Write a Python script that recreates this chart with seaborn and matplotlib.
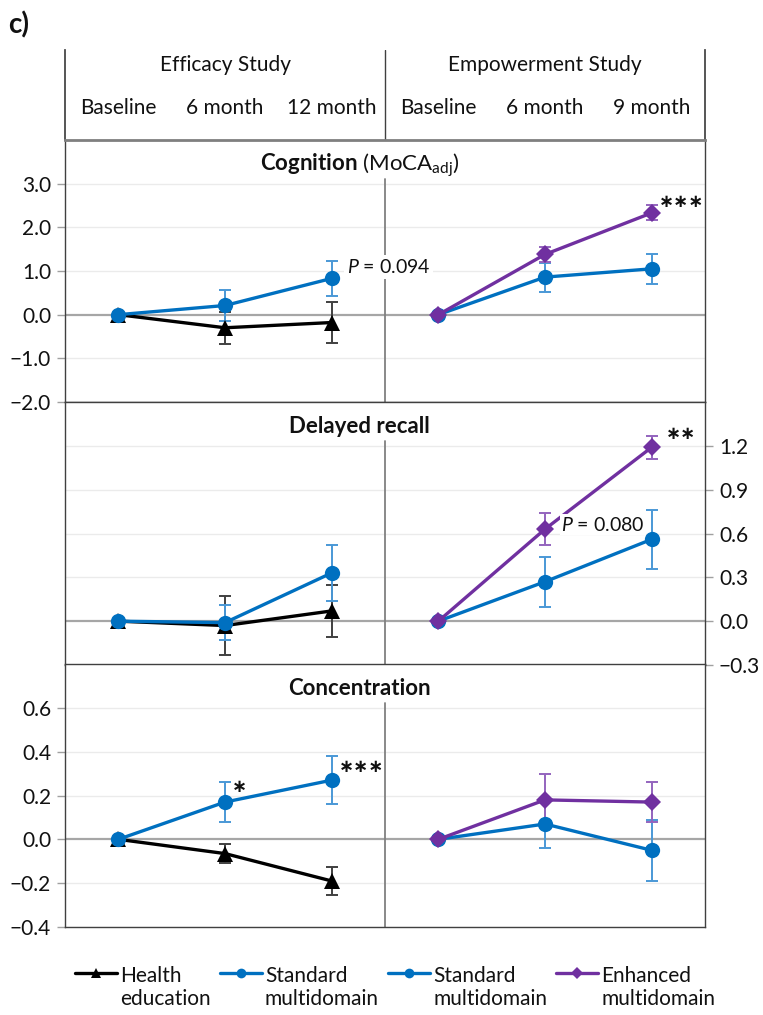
import matplotlib
matplotlib.use("Agg")
import matplotlib.pyplot as plt
from matplotlib.lines import Line2D
from matplotlib.ticker import FuncFormatter
import pandas as pd
import seaborn as sns

# ---------------------------------------------------------------------------
# Data (change from baseline, mean +/- error)
# ---------------------------------------------------------------------------
eff_visits = ["Baseline", "6 month", "12 month"]
emp_visits = ["Baseline", "6 month", "9 month"]
study_titles = ["Efficacy Study", "Empowerment Study"]

series_keys = ["he", "smd_eff", "smd_emp", "emd"]
series_labels = ["Health\neducation", "Standard\nmultidomain",
                 "Standard\nmultidomain", "Enhanced\nmultidomain"]

# Cognition (MoCA adj)
cog_he = [0.0, -0.30, -0.18]
cog_he_err = [0.0, 0.37, 0.47]
cog_smd_eff = [0.0, 0.21, 0.83]
cog_smd_eff_err = [0.0, 0.35, 0.40]
cog_smd_emp = [0.0, 0.86, 1.05]
cog_smd_emp_err = [0.0, 0.33, 0.35]
cog_emd = [0.0, 1.38, 2.33]
cog_emd_err = [0.0, 0.17, 0.17]

# Delayed recall
rec_he = [0.0, -0.03, 0.07]
rec_he_err = [0.0, 0.20, 0.18]
rec_smd_eff = [0.0, -0.01, 0.33]
rec_smd_eff_err = [0.0, 0.12, 0.19]
rec_smd_emp = [0.0, 0.27, 0.56]
rec_smd_emp_err = [0.0, 0.17, 0.20]
rec_emd = [0.0, 0.63, 1.19]
rec_emd_err = [0.0, 0.11, 0.08]

# Concentration
con_he = [0.0, -0.065, -0.19]
con_he_err = [0.0, 0.045, 0.063]
con_smd_eff = [0.0, 0.17, 0.27]
con_smd_eff_err = [0.0, 0.09, 0.11]
con_smd_emp = [0.0, 0.07, -0.05]
con_smd_emp_err = [0.0, 0.11, 0.14]
con_emd = [0.0, 0.18, 0.17]
con_emd_err = [0.0, 0.12, 0.09]

# ---------------------------------------------------------------------------
# Styles
# ---------------------------------------------------------------------------
colors = {"he": "#000000", "smd_eff": "#0070C0", "smd_emp": "#0070C0", "emd": "#7030A0"}
err_colors = {"he": "#404040", "smd_eff": "#4A98D6", "smd_emp": "#4A98D6", "emd": "#9464BE"}
markers = {"he": "^", "smd_eff": "o", "smd_emp": "o", "emd": "D"}
marker_sizes = {"he": 11, "smd_eff": 11, "smd_emp": 11, "emd": 9}

sns.set_theme(style="white")
plt.rcParams["font.family"] = ["Lato", "DejaVu Sans"]
plt.rcParams["mathtext.fontset"] = "custom"
plt.rcParams["mathtext.rm"] = "Lato"
plt.rcParams["mathtext.it"] = "Lato:italic"
plt.rcParams["mathtext.bf"] = "Lato:bold"
TXT = "#111111"
FS = 15


def build_frame(he, he_err, smd_eff, smd_eff_err, smd_emp, smd_emp_err, emd, emd_err):
    rows = []
    for i in range(3):
        rows.append(("he", i, he[i], he_err[i]))
        rows.append(("smd_eff", i, smd_eff[i], smd_eff_err[i]))
        rows.append(("smd_emp", i + 3, smd_emp[i], smd_emp_err[i]))
        rows.append(("emd", i + 3, emd[i], emd_err[i]))
    return pd.DataFrame(rows, columns=["series", "x", "y", "err"])


def fmt(v, _pos):
    return f"{v:.1f}".replace("-", "\u2212")


def stars(ax, x, y, s):
    ax.text(x, y, s, ha="left", va="center", fontsize=13, color=TXT,
            family="DejaVu Sans", fontweight="bold")


def draw_panel(ax, df, ylim, yticks, title, right_axis=False):
    ax.set_xlim(-0.5, 5.5)
    ax.set_ylim(*ylim)
    for t in yticks:
        if t != 0:
            ax.axhline(t, color="#EBEBEB", lw=1, zorder=0)
    ax.axhline(0, color="#A6A6A6", lw=1.6, zorder=1)
    ax.axvline(2.5, ymax=0.85, color="#808080", lw=1.3, zorder=1)

    for key in series_keys:
        g = df[df["series"] == key]
        ax.errorbar(g["x"], g["y"], yerr=g["err"], fmt="none",
                    ecolor=err_colors[key], elinewidth=1.4, capsize=4,
                    capthick=1.4, zorder=2)

    for key in series_keys:
        g = df[df["series"] == key]
        sns.lineplot(data=g, x="x", y="y", color=colors[key], marker=markers[key],
                     markersize=marker_sizes[key], markeredgewidth=0,
                     linewidth=2.4, errorbar=None, ax=ax, legend=False, zorder=3)

    ax.set_xlabel("")
    ax.set_ylabel("")
    ax.set_xticks([])
    ax.set_yticks(yticks)
    ax.yaxis.set_major_formatter(FuncFormatter(fmt))
    if right_axis:
        ax.yaxis.tick_right()
    else:
        ax.yaxis.tick_left()
    ax.tick_params(axis="y", length=6, width=1, color="#A0A0A0",
                   labelsize=FS, labelcolor=TXT, pad=4)
    for sp in ax.spines.values():
        sp.set_color("#404040")
        sp.set_linewidth(1)
    ax.text(0.46, 0.905, title, transform=ax.transAxes, ha="center", va="center",
            fontsize=FS + 1, color=TXT)


fig = plt.figure(figsize=(7.63, 10.15), dpi=100)
L, W = 65 / 763, 640 / 763
H = 1015


def pane(top_px, bot_px):
    return fig.add_axes([L, 1 - bot_px / H, W, (bot_px - top_px) / H])


# header
hax = pane(50, 140)
hax.set_xlim(-0.5, 5.5)
hax.set_ylim(0, 1)
hax.set_xticks([])
hax.set_yticks([])
hax.spines["top"].set_visible(False)
hax.spines["bottom"].set_visible(False)
for sp in ("left", "right"):
    hax.spines[sp].set_color("#404040")
hax.axvline(2.5, color="#404040", lw=1)
hax.text(1, 0.83, study_titles[0], ha="center", va="center", fontsize=FS, color=TXT)
hax.text(4, 0.83, study_titles[1], ha="center", va="center", fontsize=FS, color=TXT)
for i, lab in enumerate(eff_visits + emp_visits):
    hax.text(i, 0.355, lab, ha="center", va="center", fontsize=FS, color=TXT)

fig.text(8 / 763, 1 - 25 / H, "c)", fontsize=20, fontweight="bold", va="center", color=TXT)

# Cognition
ax1 = pane(140, 402)
df_cog = build_frame(cog_he, cog_he_err, cog_smd_eff, cog_smd_eff_err,
                     cog_smd_emp, cog_smd_emp_err, cog_emd, cog_emd_err)
draw_panel(ax1, df_cog, (-2, 4), [-2, -1, 0, 1, 2, 3],
           r"$\mathbf{Cognition}$ (MoCA$_{\mathrm{adj}}$)")
ax1.spines["top"].set_color("#7F7F7F")
ax1.spines["top"].set_linewidth(2)
ax1.text(2.14, 1.09, r"$\mathit{P}$ = 0.094", ha="left", va="center", fontsize=FS - 1,
         color=TXT, zorder=5,
         bbox=dict(facecolor="white", edgecolor="none", pad=2))
stars(ax1, 5.07, 2.57, "\u2217\u2217\u2217")

# Delayed recall
ax2 = pane(402, 665)
df_rec = build_frame(rec_he, rec_he_err, rec_smd_eff, rec_smd_eff_err,
                     rec_smd_emp, rec_smd_emp_err, rec_emd, rec_emd_err)
draw_panel(ax2, df_rec, (-0.3, 1.5), [-0.3, 0.0, 0.3, 0.6, 0.9, 1.2],
           "Delayed recall", right_axis=True)
for t in ax2.texts:
    t.set_fontweight("bold")
ax2.text(4.15, 0.66, r"$\mathit{P}$ = 0.080", ha="left", va="center", fontsize=FS - 1,
         color=TXT, zorder=5,
         bbox=dict(facecolor="white", edgecolor="none", pad=1))
stars(ax2, 5.13, 1.28, "\u2217\u2217")

# Concentration
ax3 = pane(664, 927)
df_con = build_frame(con_he, con_he_err, con_smd_eff, con_smd_eff_err,
                     con_smd_emp, con_smd_emp_err, con_emd, con_emd_err)
draw_panel(ax3, df_con, (-0.4, 0.8), [-0.4, -0.2, 0.0, 0.2, 0.4, 0.6],
           "Concentration")
for t in ax3.texts:
    t.set_fontweight("bold")
stars(ax3, 1.06, 0.24, "\u2217")
stars(ax3, 2.07, 0.33, "\u2217\u2217\u2217")

# legend
handles = [Line2D([], [], color=colors[k], marker=markers[k], lw=2.4,
                  markersize=7 if k != "emd" else 6, markeredgewidth=0)
           for k in series_keys]
leg = fig.legend(handles, series_labels, loc="center", bbox_to_anchor=(0.518, 0.027),
                 ncol=4, frameon=False, fontsize=FS, handlelength=2.0,
                 handletextpad=0.15, columnspacing=0.45, labelcolor=TXT)
for col in leg._legend_handle_box.get_children():
    for row in col.get_children():
        row.align = "top"

fig.savefig("out.png", dpi=100)
